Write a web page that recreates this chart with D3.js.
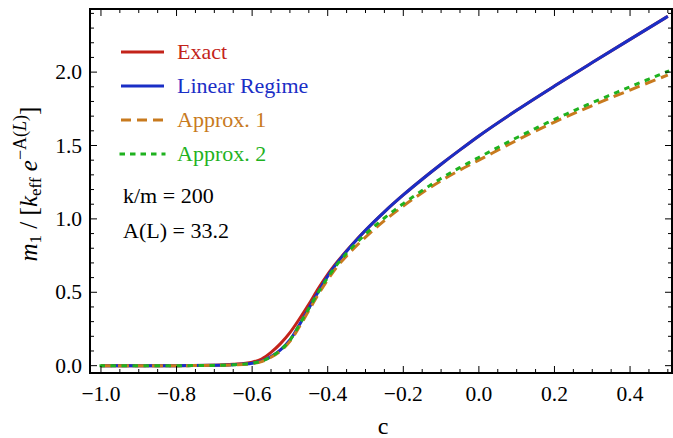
<!DOCTYPE html>
<html>
<head>
<meta charset="utf-8">
<script src="https://cdn.jsdelivr.net/npm/d3@7"></script>
<style>
  body { margin: 0; background: #fff; }
  svg { display: block; font-family: "Liberation Serif", "DejaVu Serif", serif; }
</style>
</head>
<body>
<svg id="chart"></svg>
<script>
// c values shared by all curves
var cVals = [-1.0, -0.9, -0.8, -0.7, -0.65, -0.6, -0.575, -0.55, -0.525, -0.5, -0.475, -0.45, -0.425, -0.4, -0.375,
  -0.35, -0.325, -0.3, -0.25, -0.2, -0.15, -0.1, -0.05, 0.0, 0.1, 0.2, 0.3, 0.4, 0.5];

var exactVals = [0, 0, 0, 0.003, 0.009, 0.024, 0.045, 0.09, 0.15, 0.225, 0.318, 0.418, 0.525, 0.622, 0.706,
  0.783, 0.855, 0.922, 1.048, 1.163, 1.27, 1.372, 1.47, 1.565, 1.74, 1.905, 2.065, 2.223, 2.38];
var linearVals = [0, 0, 0, 0.002, 0.006, 0.017, 0.031, 0.062, 0.108, 0.175, 0.278, 0.39, 0.503, 0.61, 0.70,
  0.78, 0.853, 0.922, 1.048, 1.163, 1.27, 1.372, 1.47, 1.565, 1.74, 1.905, 2.065, 2.223, 2.38];
var approx1Vals = [0, 0, 0, 0.002, 0.005, 0.015, 0.028, 0.057, 0.10, 0.165, 0.265, 0.375, 0.485, 0.585, 0.675,
  0.748, 0.814, 0.876, 0.988, 1.088, 1.178, 1.26, 1.333, 1.40, 1.535, 1.66, 1.772, 1.878, 1.98];
var approx2Vals = [0, 0, 0, 0.002, 0.006, 0.017, 0.03, 0.061, 0.106, 0.173, 0.278, 0.39, 0.50, 0.60, 0.69,
  0.765, 0.833, 0.896, 1.006, 1.104, 1.193, 1.276, 1.35, 1.419, 1.553, 1.678, 1.792, 1.90, 2.005];

var xTicks = [-1.0, -0.8, -0.6, -0.4, -0.2, 0.0, 0.2, 0.4];
var yTicks = [0.0, 0.5, 1.0, 1.5, 2.0];
var legendNames = ['Exact', 'Linear Regime', 'Approx. 1', 'Approx. 2'];
var notes = ['k/m = 200', 'A(L) = 33.2'];

var width = 673, height = 438;
var mLeft = 90, mRight = 672, mTop = 9, mBottom = 373;

var colors = ['#c3231a', '#1a2ec6', '#c87a1e', '#1fb21f'];
var dashes = [null, null, '11,6', '2.5,8.5'];
var seriesVals = [exactVals, linearVals, approx1Vals, approx2Vals];

var svg = d3.select('#chart').attr('width', width).attr('height', height);

var x = d3.scaleLinear().domain([-1.029, 0.511]).range([mLeft, mRight]);
var y = d3.scaleLinear().domain([-0.05, 2.43]).range([mBottom, mTop]);

var fmt = function(v) { return d3.format('.1f')(v).replace('-', '\u2212'); };

// curves
var line = d3.line()
  .x(function(d) { return x(d[0]); })
  .y(function(d) { return y(d[1]); })
  .curve(d3.curveMonotoneX);

var plot = svg.append('g');
plot.append('clipPath').attr('id', 'clip').append('rect')
  .attr('x', mLeft).attr('y', mTop).attr('width', mRight - mLeft).attr('height', mBottom - mTop);

seriesVals.forEach(function(vals, i) {
  var pts = cVals.map(function(c, j) { return [c, vals[j]]; });
  plot.append('path')
    .attr('clip-path', 'url(#clip)')
    .attr('d', line(pts))
    .attr('fill', 'none')
    .attr('stroke', colors[i])
    .attr('stroke-width', 3)
    .attr('stroke-dasharray', dashes[i])
    .attr('stroke-linecap', i == 3 ? 'square' : 'butt');
});

// frame with ticks on all sides
var axisG = svg.append('g').attr('stroke', '#000');
var xMinor = d3.range(-1.0, 0.5001, 0.05);
var yMinor = d3.range(0, 2.4001, 0.1);

xMinor.forEach(function(v) {
  var major = xTicks.some(function(t) { return Math.abs(t - v) < 1e-6; });
  var len = major ? 7 : 4;
  axisG.append('line').attr('x1', x(v)).attr('x2', x(v)).attr('y1', mBottom).attr('y2', mBottom - len).attr('stroke-width', 1);
  axisG.append('line').attr('x1', x(v)).attr('x2', x(v)).attr('y1', mTop).attr('y2', mTop + len).attr('stroke-width', 1);
});
yMinor.forEach(function(v) {
  var major = yTicks.some(function(t) { return Math.abs(t - v) < 1e-6; });
  var len = major ? 7 : 4;
  axisG.append('line').attr('y1', y(v)).attr('y2', y(v)).attr('x1', mLeft).attr('x2', mLeft + len).attr('stroke-width', 1);
  axisG.append('line').attr('y1', y(v)).attr('y2', y(v)).attr('x1', mRight).attr('x2', mRight - len).attr('stroke-width', 1);
});

axisG.append('rect')
  .attr('x', mLeft).attr('y', mTop).attr('width', mRight - mLeft).attr('height', mBottom - mTop)
  .attr('fill', 'none').attr('stroke-width', 2);

// tick labels
svg.append('g').selectAll('text').data(xTicks).join('text')
  .attr('x', function(d) { return x(d); })
  .attr('y', 401)
  .attr('text-anchor', 'middle')
  .attr('font-size', 21.5)
  .text(fmt);

svg.append('g').selectAll('text').data(yTicks).join('text')
  .attr('x', 82)
  .attr('y', function(d) { return y(d) + 7; })
  .attr('text-anchor', 'end')
  .attr('font-size', 21.5)
  .text(fmt);

// axis titles
svg.append('text')
  .attr('x', 383).attr('y', 434)
  .attr('text-anchor', 'middle')
  .attr('font-size', 24)
  .text('c');

var yTitle = svg.append('text')
  .attr('transform', 'translate(37,184) rotate(-90)')
  .attr('text-anchor', 'middle')
  .attr('font-size', 25);
yTitle.append('tspan').attr('font-style', 'italic').text('m');
yTitle.append('tspan').attr('font-size', 17).attr('dy', 4).text('1');
yTitle.append('tspan').attr('dy', -4).text(' / [');
yTitle.append('tspan').attr('font-style', 'italic').text('k');
yTitle.append('tspan').attr('font-size', 17).attr('dy', 4).text('eff');
yTitle.append('tspan').attr('dy', -4).text(' ');
yTitle.append('tspan').attr('font-style', 'italic').text('e');
yTitle.append('tspan').attr('font-size', 18).attr('dy', -11).text('\u2212A(');
yTitle.append('tspan').attr('font-size', 18).attr('font-style', 'italic').text('L');
yTitle.append('tspan').attr('font-size', 18).text(')');
yTitle.append('tspan').attr('dy', 11).text(']');

// legend
var legend = svg.append('g');
legendNames.forEach(function(name, i) {
  var ly = 52 + i * 34;
  legend.append('line')
    .attr('x1', 121).attr('x2', 164).attr('y1', ly).attr('y2', ly)
    .attr('stroke', colors[i]).attr('stroke-width', 3)
    .attr('stroke-dasharray', i == 2 ? '10,6' : (i == 3 ? '2.5,8' : null))
    .attr('stroke-linecap', i == 3 ? 'square' : 'butt');
  legend.append('text')
    .attr('x', 177).attr('y', ly + 7)
    .attr('font-size', 22)
    .attr('fill', colors[i])
    .text(name);
});

notes.forEach(function(t, i) {
  svg.append('text')
    .attr('x', 123).attr('y', 203 + i * 35)
    .attr('font-size', 22)
    .text(t);
});
</script>
</body>
</html>
